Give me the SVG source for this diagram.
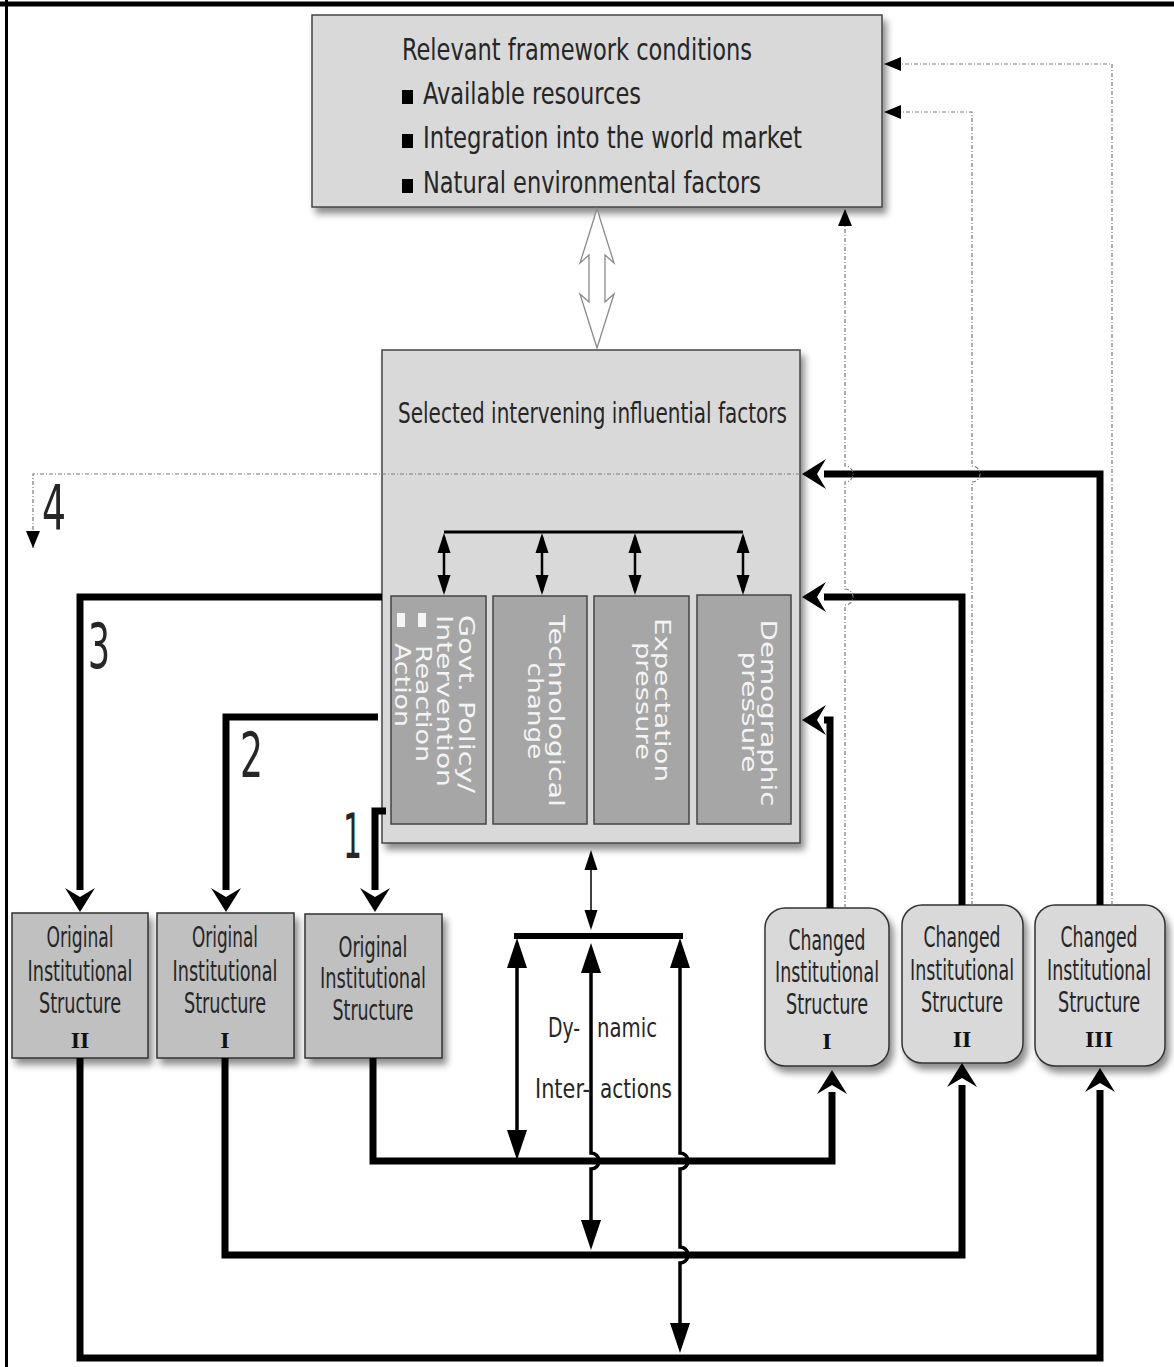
<svg xmlns="http://www.w3.org/2000/svg" width="1174" height="1367" viewBox="0 0 1174 1367">
<style>
  .box { fill:#d9d9d9; stroke:#444; stroke-width:1.5; }
  .factor { fill:#a6a6a6; stroke:#444; stroke-width:1.5; }
  .orig { fill:#c0c0c0; stroke:#333; stroke-width:1.5; }
  .chg { fill:#d9d9d9; stroke:#333; stroke-width:1.5; }
  .cond { font-family:"DejaVu Sans Condensed","DejaVu Sans",sans-serif; fill:#262626; }
  .lbl { font-size:28px; text-anchor:middle; }
  .rom { font-family:"Liberation Serif",serif; font-weight:bold; font-size:24px; text-anchor:middle; fill:#111; }
  .vert { font-family:"DejaVu Sans",sans-serif; font-size:21px; fill:#f4f4f4; }
  .num { font-size:62px; }
  .thick { fill:none; stroke:#000; stroke-width:7; stroke-linejoin:miter; marker-end:url(#chev); }
  .dyn { fill:none; stroke:#000; stroke-width:3.5; marker-start:url(#tri); marker-end:url(#tri); }
  .dot { fill:none; stroke:#7a7a7a; stroke-width:1.2; stroke-dasharray:4 2 1 2; marker-end:url(#tri-d); }
</style>
<defs>
  <filter id="shadow" x="-10%" y="-10%" width="130%" height="130%">
    <feDropShadow dx="4" dy="6" stdDeviation="3.5" flood-color="#000" flood-opacity="0.45"/>
  </filter>
  <marker id="chev" markerUnits="userSpaceOnUse" viewBox="-4 -18 28 36" markerWidth="28" markerHeight="36" refX="0" refY="0" orient="auto">
    <path d="M22,0 L-2,-15 L7,0 L-2,15 Z" fill="#000"/>
  </marker>
  <marker id="tri" markerUnits="userSpaceOnUse" viewBox="0 -11 31 22" markerWidth="31" markerHeight="22" refX="24" refY="0" orient="auto-start-reverse">
    <path d="M0,-10 L30,0 L0,10 Z" fill="#000"/>
  </marker>
  <marker id="tri-s" markerUnits="userSpaceOnUse" viewBox="0 -7 21 14" markerWidth="21" markerHeight="14" refX="16" refY="0" orient="auto-start-reverse">
    <path d="M0,-6.5 L20,0 L0,6.5 Z" fill="#000"/>
  </marker>
  <marker id="tri-d" markerUnits="userSpaceOnUse" viewBox="0 -8 18 16" markerWidth="18" markerHeight="16" refX="17" refY="0" orient="auto">
    <path d="M0,-7 L17,0 L0,7 Z" fill="#000"/>
  </marker>
</defs>

<rect width="1174" height="1367" fill="#fff"/>
<!-- page frame -->
<line x1="0" y1="4" x2="1174" y2="4" stroke="#000" stroke-width="5"/>
<line x1="6.5" y1="0" x2="6.5" y2="1367" stroke="#000" stroke-width="3"/>

<!-- framework conditions -->
<g id="framework-conditions">
  <rect class="box" x="312" y="15" width="570" height="192" filter="url(#shadow)"/>
  <text class="cond" x="402" y="60" font-size="31" textLength="350" lengthAdjust="spacingAndGlyphs">Relevant framework conditions</text>
  <rect x="402" y="90" width="11" height="14" fill="#000"/>
  <text class="cond" x="423" y="104" font-size="31" textLength="218" lengthAdjust="spacingAndGlyphs">Available resources</text>
  <rect x="402" y="134" width="11" height="14" fill="#000"/>
  <text class="cond" x="423" y="148" font-size="31" textLength="379" lengthAdjust="spacingAndGlyphs">Integration into the world market</text>
  <rect x="402" y="179" width="11" height="14" fill="#000"/>
  <text class="cond" x="423" y="193" font-size="31" textLength="338" lengthAdjust="spacingAndGlyphs">Natural environmental factors</text>
</g>

<!-- intervening factors -->
<g id="intervening-factors">
  <rect class="box" x="382" y="350" width="418" height="493" filter="url(#shadow)"/>
  <text class="cond" x="398" y="423" font-size="29" textLength="389" lengthAdjust="spacingAndGlyphs">Selected intervening influential factors</text>
</g>

<g id="factor-govt">
  <rect class="factor" x="391" y="596" width="95" height="228"/>
  <text class="vert" transform="translate(459,615) rotate(90)" textLength="178" lengthAdjust="spacingAndGlyphs">Govt. Policy/</text>
  <text class="vert" transform="translate(437,615) rotate(90)" textLength="172" lengthAdjust="spacingAndGlyphs">Intervention</text>
  <rect x="418" y="613" width="8" height="14" fill="#f4f4f4"/>
  <text class="vert" transform="translate(416,645) rotate(90)" textLength="117" lengthAdjust="spacingAndGlyphs">Reaction</text>
  <rect x="397" y="613" width="8" height="14" fill="#f4f4f4"/>
  <text class="vert" transform="translate(395,643) rotate(90)" textLength="84" lengthAdjust="spacingAndGlyphs">Action</text>
</g>
<g id="factor-tech">
  <rect class="factor" x="493" y="596" width="94" height="228"/>
  <text class="vert" text-anchor="middle" transform="translate(549,711) rotate(90)" textLength="192" lengthAdjust="spacingAndGlyphs">Technological</text>
  <text class="vert" text-anchor="middle" transform="translate(528,711) rotate(90)" textLength="97" lengthAdjust="spacingAndGlyphs">change</text>
</g>
<g id="factor-expect">
  <rect class="factor" x="594" y="596" width="95" height="228"/>
  <text class="vert" text-anchor="middle" transform="translate(655,700) rotate(90)" textLength="164" lengthAdjust="spacingAndGlyphs">Expectation</text>
  <text class="vert" text-anchor="middle" transform="translate(636,701) rotate(90)" textLength="118" lengthAdjust="spacingAndGlyphs">pressure</text>
</g>
<g id="factor-demo">
  <rect class="factor" x="697" y="595" width="94" height="229"/>
  <text class="vert" text-anchor="middle" transform="translate(761,713) rotate(90)" textLength="187" lengthAdjust="spacingAndGlyphs">Demographic</text>
  <text class="vert" text-anchor="middle" transform="translate(742,712) rotate(90)" textLength="121" lengthAdjust="spacingAndGlyphs">pressure</text>
</g>

<!-- original structures -->
<g id="original-2">
  <rect class="orig" x="12" y="913" width="136" height="145" filter="url(#shadow)"/>
  <text class="cond lbl" x="80" y="947" textLength="67" lengthAdjust="spacingAndGlyphs">Original</text>
  <text class="cond lbl" x="80" y="981" textLength="105" lengthAdjust="spacingAndGlyphs">Institutional</text>
  <text class="cond lbl" x="80" y="1013" textLength="82" lengthAdjust="spacingAndGlyphs">Structure</text>
  <text class="rom" x="80" y="1048">II</text>
</g>
<g id="original-1">
  <rect class="orig" x="157" y="913" width="137" height="145" filter="url(#shadow)"/>
  <text class="cond lbl" x="225" y="947" textLength="66" lengthAdjust="spacingAndGlyphs">Original</text>
  <text class="cond lbl" x="225" y="981" textLength="105" lengthAdjust="spacingAndGlyphs">Institutional</text>
  <text class="cond lbl" x="225" y="1013" textLength="82" lengthAdjust="spacingAndGlyphs">Structure</text>
  <text class="rom" x="225" y="1048">I</text>
</g>
<g id="original">
  <rect class="orig" x="305" y="914" width="137" height="144" filter="url(#shadow)"/>
  <text class="cond lbl" x="373" y="957" textLength="69" lengthAdjust="spacingAndGlyphs">Original</text>
  <text class="cond lbl" x="373" y="988" textLength="106" lengthAdjust="spacingAndGlyphs">Institutional</text>
  <text class="cond lbl" x="373" y="1020" textLength="81" lengthAdjust="spacingAndGlyphs">Structure</text>
</g>

<!-- changed structures -->
<g id="changed-1">
  <rect class="chg" x="765" y="908" width="124" height="158" rx="20" filter="url(#shadow)"/>
  <text class="cond lbl" x="827" y="950" textLength="77" lengthAdjust="spacingAndGlyphs">Changed</text>
  <text class="cond lbl" x="827" y="982" textLength="104" lengthAdjust="spacingAndGlyphs">Institutional</text>
  <text class="cond lbl" x="827" y="1014" textLength="82" lengthAdjust="spacingAndGlyphs">Structure</text>
  <text class="rom" x="827" y="1049">I</text>
</g>
<g id="changed-2">
  <rect class="chg" x="902" y="905" width="121" height="158" rx="20" filter="url(#shadow)"/>
  <text class="cond lbl" x="962" y="947" textLength="77" lengthAdjust="spacingAndGlyphs">Changed</text>
  <text class="cond lbl" x="962" y="980" textLength="104" lengthAdjust="spacingAndGlyphs">Institutional</text>
  <text class="cond lbl" x="962" y="1012" textLength="82" lengthAdjust="spacingAndGlyphs">Structure</text>
  <text class="rom" x="962" y="1047">II</text>
</g>
<g id="changed-3">
  <rect class="chg" x="1035" y="905" width="130" height="161" rx="20" filter="url(#shadow)"/>
  <text class="cond lbl" x="1099" y="947" textLength="77" lengthAdjust="spacingAndGlyphs">Changed</text>
  <text class="cond lbl" x="1099" y="980" textLength="104" lengthAdjust="spacingAndGlyphs">Institutional</text>
  <text class="cond lbl" x="1099" y="1012" textLength="82" lengthAdjust="spacingAndGlyphs">Structure</text>
  <text class="rom" x="1099" y="1047">III</text>
</g>

<!-- connectors -->
<g id="connectors">
  <!-- hollow two-way arrow between the two upper boxes -->
  <polygon points="597,209 614,263 605,255 605,302 614,294 597,348 580,294 589,302 589,255 580,263" fill="#fff" stroke="#8a8a8a" stroke-width="1.3" stroke-linejoin="miter"/>

  <!-- links among the four factors -->
  <path d="M444,532 H743" fill="none" stroke="#000" stroke-width="3"/>
  <path d="M444,537 V591" fill="none" stroke="#000" stroke-width="2.5" marker-start="url(#tri-s)" marker-end="url(#tri-s)"/>
  <path d="M542,537 V591" fill="none" stroke="#000" stroke-width="2.5" marker-start="url(#tri-s)" marker-end="url(#tri-s)"/>
  <path d="M635,537 V591" fill="none" stroke="#000" stroke-width="2.5" marker-start="url(#tri-s)" marker-end="url(#tri-s)"/>
  <path d="M743,537 V591" fill="none" stroke="#000" stroke-width="2.5" marker-start="url(#tri-s)" marker-end="url(#tri-s)"/>

  <!-- paths 1-3 down to the original structures -->
  <path class="thick" d="M382,597 H80 V890"/>
  <path class="thick" d="M378,717 H226 V890"/>
  <path class="thick" d="M386,811 H375 V890"/>

  <!-- feedback from changed structures -->
  <path class="thick" d="M1100,905 V474 H824"/>
  <path class="thick" d="M962,905 V597 H824"/>
  <path class="thick" d="M830,908 V720 H824"/>

  <!-- original to changed -->
  <path class="thick" d="M373,1058 V1161 H832 V1092"/>
  <path class="thick" d="M225,1058 V1255 H962 V1085"/>
  <path class="thick" d="M80,1058 V1358 H1100 V1090"/>

  <!-- dynamic interactions -->
  <path d="M591,854 V926" fill="none" stroke="#000" stroke-width="1.5" marker-start="url(#tri-s)" marker-end="url(#tri-s)"/>
  <path d="M514,936 H683" fill="none" stroke="#000" stroke-width="6"/>
  <path class="dyn" d="M517,944 V1154"/>
  <path class="dyn" d="M591,949 V1153 a8,8 0 0 1 0,16 V1244"/>
  <path class="dyn" d="M680,944 V1153 a8,8 0 0 1 0,16 V1247 a8,8 0 0 1 0,16 V1347"/>

  <!-- dotted feedback to framework conditions -->
  <path class="dot" d="M845,908 V605 a8,8 0 0 0 0,-16 V482 a8,8 0 0 0 0,-16 V209"/>
  <path class="dot" d="M972,905 V482 a8,8 0 0 0 0,-16 V112 H884"/>
  <path class="dot" d="M1112,905 V64 H884"/>
  <path class="dot" d="M800,474 H33 V548"/>
</g>

<!-- path numbers and centre label -->
<g id="labels">
  <text class="cond num" x="42" y="530" textLength="24" lengthAdjust="spacingAndGlyphs">4</text>
  <text class="cond num" x="88" y="668" textLength="22" lengthAdjust="spacingAndGlyphs">3</text>
  <text class="cond num" x="240" y="777" textLength="23" lengthAdjust="spacingAndGlyphs">2</text>
  <text class="cond num" x="343" y="858" textLength="19" lengthAdjust="spacingAndGlyphs">1</text>
  <text class="cond" x="548" y="1037" font-size="27" textLength="32" lengthAdjust="spacingAndGlyphs">Dy-</text>
  <text class="cond" x="597" y="1037" font-size="27" textLength="60" lengthAdjust="spacingAndGlyphs">namic</text>
  <text class="cond" x="535" y="1098" font-size="27" textLength="55" lengthAdjust="spacingAndGlyphs">Inter-</text>
  <text class="cond" x="600" y="1098" font-size="27" textLength="72" lengthAdjust="spacingAndGlyphs">actions</text>
</g>
</svg>
